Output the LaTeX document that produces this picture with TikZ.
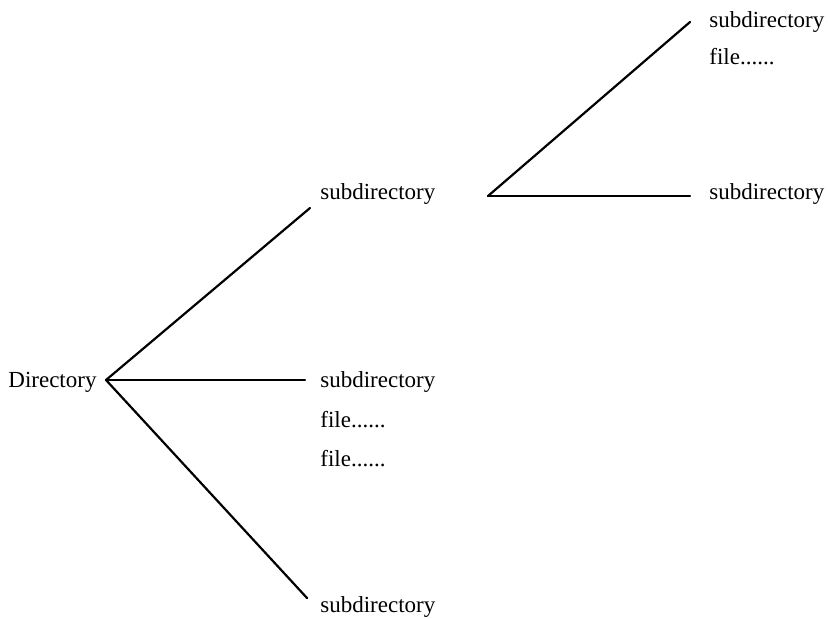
\documentclass[tikz,border=0pt]{standalone}
\usepackage{fontspec}
\setmainfont{Liberation Serif}
\usetikzlibrary{positioning}
\tikzset{
    entry/.style = {anchor=west, inner sep=0pt, font=\fontsize{11.5}{14}\selectfont},
    branch/.style = {line width=1.1pt, line cap=round}
}

\begin{document}
\begin{tikzpicture}[x=0.5pt, y=-0.5pt]
\useasboundingbox (0,0) rectangle (830,618);
\node (dir) [entry] at (8,382) {Directory};
\node (subA) [entry] at (320,194) {subdirectory};
\node (subB) [entry] at (320,382) {subdirectory};
\node (fileB1) [entry, below=19pt of subB.west, anchor=west] {file......};
\node (fileB2) [entry, below=19.5pt of fileB1.west, anchor=west] {file......};
\node (subC) [entry] at (320,607) {subdirectory};
\node (subD) [entry] at (709,22) {subdirectory};
\node (fileD1) [entry, below=17.5pt of subD.west, anchor=west] {file......};
\node (subE) [entry] at (709,194) {subdirectory};

% branch points and line ends
\coordinate (root) at (106,380);
\coordinate (fork) at (488,196);
\coordinate (toA) at (310,208);
\coordinate (toB) at (305,380);
\coordinate (toC) at (307,598);
\coordinate (toD) at (690,22);
\coordinate (toE) at (690,196);

\draw [branch] (root) -- (toA);
\draw [branch] (root) -- (toB);
\draw [branch] (root) -- (toC);
\draw [branch] (fork) -- (toD);
\draw [branch] (fork) -- (toE);
\end{tikzpicture}
\end{document}
